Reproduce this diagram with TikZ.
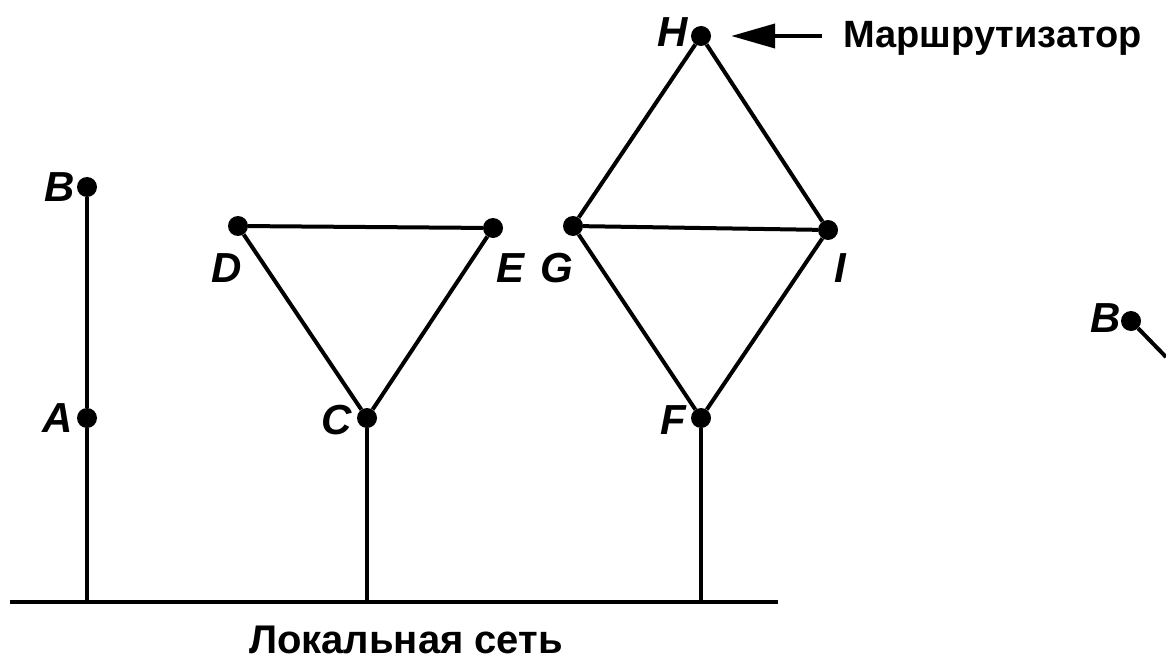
\documentclass[tikz,border=0pt]{standalone}
\usepackage{fontspec}
\setmainfont{Liberation Sans}
\usetikzlibrary{arrows.meta}
\begin{document}
\begin{tikzpicture}[x=1pt,y=-1pt,
  dot/.style={circle,fill=black,inner sep=0pt,minimum size=20pt},
  ln/.style={line width=4pt},
  lbl/.style={font=\fontsize{42}{44}\selectfont\bfseries\itshape,inner sep=0pt},
  txt/.style={font=\fontsize{38}{40}\selectfont\bfseries,inner sep=0pt}]
\useasboundingbox (0,0) rectangle (1166,663);
% nodes
\node[dot] (B) at (87,187) {};
\node[dot] (A) at (87,418) {};
\node[dot] (D) at (238,226) {};
\node[dot] (E) at (493,228) {};
\node[dot] (C) at (367,418) {};
\node[dot] (G) at (573,226) {};
\node[dot] (I) at (828,230) {};
\node[dot] (H) at (701,36) {};
\node[dot] (F) at (701,418) {};
\node[dot] (B2) at (1131,321) {};
\coordinate (B2end) at (1166,357);
% bus
\coordinate (busL) at (10,602);
\coordinate (busR) at (778,602);
\coordinate (busA) at (87,602);
\coordinate (busC) at (367,602);
\coordinate (busF) at (701,602);
% labels
\node[lbl,anchor=east] (lB) at (75,187) {B};
\node[lbl,anchor=east] (lA) at (73,418) {A};
\node[lbl] (lD) at (227,268) {D};
\node[lbl] (lE) at (510,268) {E};
\node[lbl] (lG) at (557,268) {G};
\node[lbl] (lI) at (840,268) {I};
\node[lbl,anchor=east] (lC) at (352,420) {C};
\node[lbl,anchor=east] (lF) at (686,420) {F};
\node[lbl,anchor=east] (lH) at (688,32) {H};
\node[lbl,anchor=east] (lB2) at (1121,318) {B};
\node[txt,anchor=west] (router) at (843,38) {Маршрутизатор};
\node[txt,font=\fontsize{40}{42}\selectfont\bfseries] (lan) at (406,640) {Локальная сеть};
\coordinate (arrstart) at (822,36);
% edges
\draw[ln] (B) -- (A) -- (busA);
\draw[ln] (D) -- (E) -- (C) -- (D);
\draw[ln] (C) -- (busC);
\draw[ln] (H) -- (G) -- (I) -- (H);
\draw[ln] (G) -- (F) -- (I);
\draw[ln] (F) -- (busF);
\draw[ln] (busL) -- (busR);
\draw[ln] (B2) -- (B2end);
\draw[line width=4pt,-{Triangle[length=44pt,width=24pt]},shorten >=20pt] (arrstart) -- (H);
\end{tikzpicture}
\end{document}
